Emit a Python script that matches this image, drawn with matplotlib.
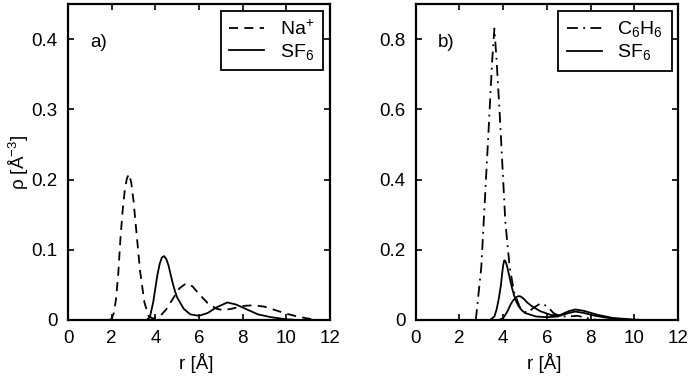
import matplotlib
matplotlib.use("Agg")
import matplotlib.pyplot as plt
from matplotlib.ticker import FormatStrFormatter, MultipleLocator

plt.rcParams['font.family'] = ['Liberation Sans', 'DejaVu Sans']
plt.rcParams['mathtext.fontset'] = 'custom'
plt.rcParams['mathtext.rm'] = 'Liberation Sans'
plt.rcParams['mathtext.default'] = 'regular'

# Panel a) data
r_na = [1.9, 2.0, 2.1, 2.2, 2.3, 2.4, 2.5, 2.6, 2.7, 2.8, 2.9, 3.0, 3.15, 3.3, 3.5, 3.7,
        3.9, 4.2, 4.5, 4.8, 5.1, 5.4, 5.7, 6.0, 6.4, 6.8, 7.1, 7.5, 8.0, 8.5, 9.0, 9.5,
        10.0, 10.5, 11.0, 11.5]
rho_na = [0.0, 0.002, 0.01, 0.03, 0.065, 0.115, 0.155, 0.185, 0.202, 0.208, 0.195, 0.17,
          0.12, 0.07, 0.025, 0.005, 0.002, 0.005, 0.015, 0.03, 0.045, 0.052, 0.048,
          0.037, 0.024, 0.016, 0.014, 0.016, 0.02, 0.021, 0.019, 0.014, 0.009, 0.005,
          0.002, 0.0]
r_sf_a = [3.6, 3.75, 3.9, 4.0, 4.1, 4.2, 4.3, 4.4, 4.5, 4.6, 4.7, 4.8, 4.9, 5.0, 5.3,
          5.6, 6.0, 6.4, 6.8, 7.3, 7.7, 8.2, 8.7, 9.3, 10.0, 10.5]
rho_sf_a = [0.0, 0.004, 0.025, 0.045, 0.065, 0.08, 0.089, 0.091, 0.087, 0.078, 0.065,
            0.052, 0.041, 0.032, 0.016, 0.008, 0.006, 0.01, 0.018, 0.025, 0.022, 0.015,
            0.008, 0.004, 0.001, 0.0]

# Panel b) data
r_c6 = [2.75, 3.0, 3.3, 3.5, 3.6, 3.7, 3.85, 4.1, 4.3, 4.5, 4.8, 5.1, 5.4, 5.7, 6.0,
        6.3, 6.6, 7.0, 7.4, 7.8, 8.3]
rho_c6 = [0.0, 0.15, 0.5, 0.74, 0.83, 0.74, 0.58, 0.28, 0.15, 0.08, 0.03, 0.02, 0.035,
          0.047, 0.04, 0.02, 0.01, 0.01, 0.012, 0.006, 0.0]
r_sf_b1 = [3.4, 3.6, 3.7, 3.8, 3.9, 3.95, 4.0, 4.05, 4.1, 4.15, 4.2, 4.3, 4.4, 4.5, 4.6,
           4.7, 4.85, 5.0, 5.5, 6.0, 6.5, 7.0, 7.3, 7.7, 8.2, 9.0, 10.0]
rho_sf_b1 = [0.0, 0.01, 0.03, 0.06, 0.1, 0.13, 0.155, 0.17, 0.168, 0.16, 0.148, 0.12,
             0.093, 0.07, 0.053, 0.04, 0.028, 0.02, 0.01, 0.008, 0.01, 0.02, 0.024,
             0.02, 0.012, 0.004, 0.0]
r_sf_b2 = [3.8, 4.0, 4.2, 4.35, 4.45, 4.6, 4.7, 4.8, 4.95, 5.1, 5.3, 5.7, 6.2, 6.6, 7.0,
           7.3, 7.7, 8.3, 9.0, 10.0, 10.5]
rho_sf_b2 = [0.0, 0.005, 0.025, 0.045, 0.055, 0.065, 0.068, 0.067, 0.06, 0.05, 0.04,
             0.025, 0.014, 0.014, 0.025, 0.03, 0.026, 0.015, 0.006, 0.001, 0.0]

x_ticks = [0, 2, 4, 6, 8, 10, 12]

fig = plt.figure(figsize=(6.93, 3.77), dpi=100)
W, H = 693, 377
axa = fig.add_axes([68 / W, 1 - 320 / H, 262 / W, 316 / H])
axb = fig.add_axes([415.7 / W, 1 - 320 / H, 262.3 / W, 316 / H])

lw = 1.3
fs = 13.5
axa.plot(r_na, rho_na, color='black', lw=lw, linestyle=(0, (5, 3.5)), label='Na$^{+}$')
axa.plot(r_sf_a, rho_sf_a, color='black', lw=lw, linestyle='-', label='SF$_6$')
axb.plot(r_c6, rho_c6, color='black', lw=lw, linestyle=(0, (6, 3, 1, 3)), label='C$_6$H$_6$')
axb.plot(r_sf_b1, rho_sf_b1, color='black', lw=lw, linestyle='-', label='SF$_6$')
axb.plot(r_sf_b2, rho_sf_b2, color='black', lw=lw, linestyle='-')

for ax, ymax, ystep in [(axa, 0.45, 0.1), (axb, 0.9, 0.2)]:
    ax.set_xlim(0, 12)
    ax.set_ylim(0, ymax)
    ax.set_xticks(x_ticks)
    ax.yaxis.set_major_locator(MultipleLocator(ystep))
    ax.yaxis.set_major_formatter(FormatStrFormatter('%g'))
    ax.xaxis.set_major_formatter(FormatStrFormatter('%g'))
    ax.tick_params(direction='in', top=True, right=True, length=4, width=1.2,
                   labelsize=fs)
    ax.tick_params(axis='y', pad=7.5)
    ax.tick_params(axis='x', pad=7)
    for s in ax.spines.values():
        s.set_linewidth(1.6)
    ax.set_xlabel('r [Å]', fontsize=fs)
    ax.xaxis.set_label_coords(0.49, -0.104)

axa.set_ylabel('ρ [Å$^{-3}$]', fontsize=fs)
axa.yaxis.set_label_coords(-0.14, 0.5)

axa.text(1.0, 0.395, 'a)', fontsize=fs, va='center', ha='left')
axb.text(1.0, 0.79, 'b)', fontsize=fs, va='center', ha='left')

for ax, right in [(axa, 323), (axb, 671.7)]:
    leg = ax.legend(loc='upper right', bbox_to_anchor=(right / W, 1 - 10.7 / H),
                    bbox_transform=fig.transFigure, fontsize=14, frameon=True,
                    fancybox=False, edgecolor='black', framealpha=1,
                    borderaxespad=0, handlelength=1.8, labelspacing=0.15,
                    borderpad=0.45, handletextpad=0.8)
    leg.get_frame().set_linewidth(1.3)

fig.savefig('out.png', dpi=100)
